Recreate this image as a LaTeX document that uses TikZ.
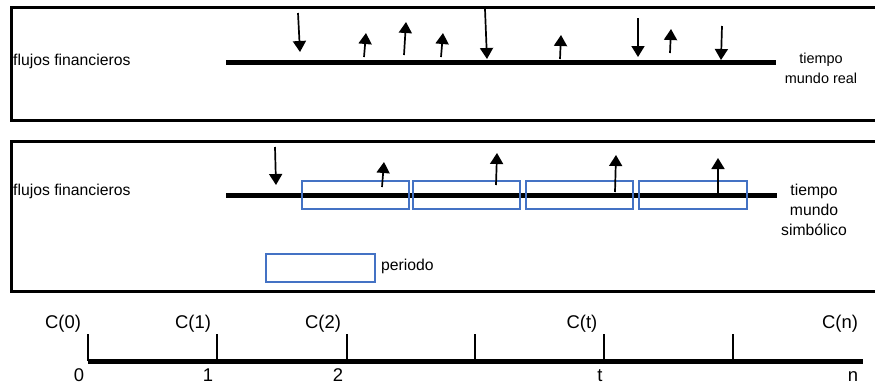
\documentclass[tikz,border=0pt]{standalone}
\usepackage{fontspec}
\setmainfont{Liberation Sans}
\usetikzlibrary{arrows.meta}
\definecolor{pblue}{RGB}{68,114,196}
\begin{document}
\begin{tikzpicture}[x=1bp,y=-1bp,
  frame/.style={draw=black,line width=3bp},
  timeline/.style={line width=5bp},
  flow/.style={line width=1.7bp,-{Triangle[width=13bp,length=11bp]}},
  period/.style={draw=pblue,line width=1.8bp,minimum height=28bp,inner sep=0pt},
  lbl/.style={inner sep=0pt,font=\fontsize{15.8}{18}\selectfont},
  rlbl/.style={inner sep=0pt,font=\fontsize{14.5}{17}\selectfont},
  axlbl/.style={inner sep=0pt,font=\fontsize{18.5}{22}\selectfont},
  tickline/.style={line width=2.5bp}]
\useasboundingbox (0,0) rectangle (875,385);
\clip (0,0) rectangle (875,385);

% frames
\draw[frame] (11,7) rectangle (895,120);
\draw[frame] (11,141) rectangle (895,291);

% top: real world
\coordinate (tl1s) at (226,62);
\coordinate (tl1e) at (776,62);
\draw[timeline] (tl1s) -- (tl1e);
\foreach \i/\xa/\ya/\xb/\yb in {1/298/13/300/52, 2/364/57/366/33, 3/404/55/406/22,
  4/441/57/443/33, 5/485/9/487/59, 6/560/59/561/35, 7/638/18/638/57,
  8/670/53/671/29, 9/722/26/721/60}{
  \coordinate (r\i s) at (\xa,\ya);
  \coordinate (r\i e) at (\xb,\yb);
  \draw[flow] (r\i s) -- (r\i e);
}
\node[lbl,anchor=base west] (ff1) at (13,65) {flujos financieros};
\node[rlbl,anchor=base] (tr1) at (821,63) {tiempo};
\node[rlbl,anchor=base] (tr2) at (821,83) {mundo real};

% middle: symbolic world
\coordinate (tl2s) at (226,195);
\coordinate (tl2e) at (777,195);
\draw[timeline] (tl2s) -- (tl2e);
\node[period,minimum width=107bp] (p1) at (355.5,195) {};
\node[period,minimum width=107bp] (p2) at (466.5,195) {};
\node[period,minimum width=107bp] (p3) at (579.5,195) {};
\node[period,minimum width=108bp] (p4) at (693,195) {};
\foreach \i/\xa/\ya/\xb/\yb in {1/275/147/276/185, 2/382/187/384/162, 3/496/185/497/153,
  4/615/192/616/155, 5/718/193/718/158}{
  \coordinate (s\i s) at (\xa,\ya);
  \coordinate (s\i e) at (\xb,\yb);
  \draw[flow] (s\i s) -- (s\i e);
}
\node[lbl,anchor=base west] (ff2) at (13,195) {flujos financieros};
\node[lbl,anchor=base] (ts1) at (814,195) {tiempo};
\node[lbl,anchor=base] (ts2) at (814,215) {mundo};
\node[lbl,anchor=base] (ts3) at (814,235) {simbólico};
\node[period,minimum width=109bp] (leg) at (320.5,268) {};
\node[lbl,anchor=base west] (legt) at (381,270) {periodo};

% bottom axis
\coordinate (ax0) at (88,361);
\coordinate (ax1) at (863,361);
\draw[timeline] (ax0) -- (ax1);
\foreach \i/\x in {0/88,1/217,2/347,3/475,4/604,5/733}{
  \coordinate (k\i b) at (\x,361);
  \coordinate (k\i t) at (\x,334);
  \draw[tickline] (k\i b) -- (k\i t);
}
\node[axlbl,anchor=base] (c0) at (63,328) {C(0)};
\node[axlbl,anchor=base] (c1) at (193,328) {C(1)};
\node[axlbl,anchor=base] (c2) at (323,328) {C(2)};
\node[axlbl,anchor=base] (ct) at (582,328) {C(t)};
\node[axlbl,anchor=base] (cn) at (840,328) {C(n)};
\node[axlbl,anchor=base] (n0) at (79,381) {0};
\node[axlbl,anchor=base] (n1) at (208,381) {1};
\node[axlbl,anchor=base] (n2) at (338,381) {2};
\node[axlbl,anchor=base] (nt) at (600,381) {t};
\node[axlbl,anchor=base] (nn) at (853,381) {n};
\end{tikzpicture}
\end{document}
